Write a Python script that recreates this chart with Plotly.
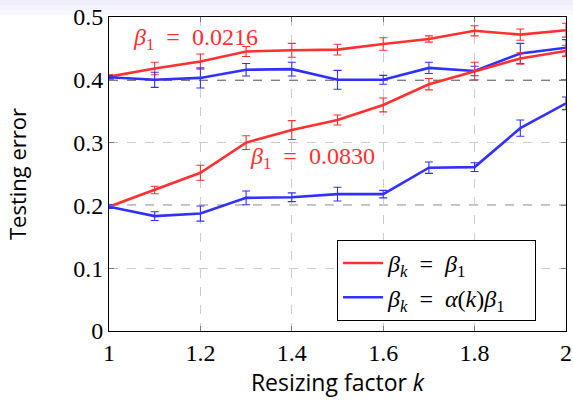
import plotly.graph_objects as go

k = [1.0, 1.1, 1.2, 1.3, 1.4, 1.5, 1.6, 1.7, 1.8, 1.9, 2.0]

# beta1 = 0.0216
red_hi = [0.405, 0.418, 0.429, 0.445, 0.447, 0.448, 0.457, 0.465, 0.478, 0.472, 0.479]
red_hi_err = [0.003, 0.010, 0.012, 0.008, 0.011, 0.0085, 0.010, 0.005, 0.008, 0.009, 0.011]
blue_hi = [0.404, 0.400, 0.403, 0.416, 0.417, 0.400, 0.400, 0.419, 0.414, 0.442, 0.451]
blue_hi_err = [0.003, 0.012, 0.016, 0.010, 0.011, 0.015, 0.007, 0.009, 0.0075, 0.016, 0.013]

# beta1 = 0.0830
red_lo = [0.198, 0.2245, 0.252, 0.300, 0.320, 0.336, 0.360, 0.393, 0.414, 0.434, 0.446]
red_lo_err = [0.003, 0.006, 0.012, 0.011, 0.015, 0.008, 0.011, 0.009, 0.014, 0.009, 0.009]
blue_lo = [0.198, 0.183, 0.187, 0.212, 0.213, 0.218, 0.218, 0.260, 0.261, 0.323, 0.3625]
blue_lo_err = [0.003, 0.007, 0.012, 0.011, 0.007, 0.011, 0.006, 0.009, 0.007, 0.013, 0.010]

ref_levels = [0.2, 0.4]
x_ticks = [1, 1.2, 1.4, 1.6, 1.8, 2]
x_tick_text = ["1", "1.2", "1.4", "1.6", "1.8", "2"]
y_ticks = [0, 0.1, 0.2, 0.3, 0.4, 0.5]
y_tick_text = ["0", "0.1", "0.2", "0.3", "0.4", "0.5"]

RED = "rgb(255,48,48)"
BLUE = "rgb(48,48,255)"
SERIF = "Liberation Serif"
SANS = "Open Sans"
EQ = "\u2002=\u2002"

fig = go.Figure()

def add(y, err, color, name, show):
    fig.add_trace(go.Scatter(
        x=k, y=y, mode="lines", name=name, showlegend=show,
        line=dict(color=color, width=2.6),
        error_y=dict(type="data", array=err, visible=True,
                     color=color, thickness=1.1, width=4),
    ))

add(red_hi, red_hi_err, RED, "<i>β</i><sub><i>k</i></sub>" + EQ + "<i>β</i><sub>1</sub>", True)
add(blue_hi, blue_hi_err, BLUE, "<i>β</i><sub><i>k</i></sub>" + EQ + "<i>α</i>(<i>k</i>)<i>β</i><sub>1</sub>\u2003", True)
add(red_lo, red_lo_err, RED, "red_lo", False)
add(blue_lo, blue_lo_err, BLUE, "blue_lo", False)

shapes = []
for lv in ref_levels:
    shapes.append(dict(type="line", xref="x", yref="y", x0=k[0], x1=k[-1], y0=lv, y1=lv,
                       line=dict(color="black", width=1.3, dash="dash"), layer="below"))
# light top band
for i, (a, b, c) in enumerate([(0, 5, "#eeeffa"), (5, 10, "#f2f3fc"), (10, 15, "#f7f7fd")]):
    shapes.append(dict(type="rect", xref="paper", yref="paper",
                       x0=-109/457, x1=1 + 7/457,
                       y0=1 + (17 - b)/314, y1=1 + (17 - a)/314,
                       line=dict(width=0), fillcolor=c, layer="below"))

fig.update_layout(
    width=573, height=402,
    margin=dict(l=109, r=7, t=17, b=71),
    paper_bgcolor="white", plot_bgcolor="white",
    shapes=shapes,
    font=dict(family=SERIF, size=24, color="black"),
    legend=dict(x=0.499, y=0.29, xanchor="left", yanchor="top",
                bordercolor="black", borderwidth=1, bgcolor="white",
                font=dict(family=SERIF, size=24), tracegroupgap=0, itemwidth=40),
    annotations=[
        dict(x=1.19, y=0.465, xref="x", yref="y", showarrow=False,
             text="<i>β</i><sub>1</sub>" + EQ + "0.0216", font=dict(family=SERIF, size=24, color=RED)),
        dict(x=1.445, y=0.275, xref="x", yref="y", showarrow=False,
             text="<i>β</i><sub>1</sub>" + EQ + "0.0830", font=dict(family=SERIF, size=24, color=RED)),
    ],
)
fig.update_xaxes(
    range=[1, 2], tickvals=x_ticks, ticktext=x_tick_text, automargin=False,
    showline=True, linecolor="black", linewidth=1, mirror="ticks",
    ticks="inside", ticklen=5, tickcolor="#777",
    showgrid=True, gridcolor="#cccccc", griddash="dash", gridwidth=1,
    zeroline=False, tickfont=dict(family=SERIF, size=24),
    title=dict(text="Resizing factor <i>k</i>", font=dict(family=SANS, size=23), standoff=10),
)
fig.update_yaxes(
    range=[0, 0.5], tickvals=y_ticks, ticktext=y_tick_text, automargin=False,
    showline=True, linecolor="black", linewidth=1, mirror="ticks",
    ticks="inside", ticklen=5, tickcolor="#777",
    showgrid=True, gridcolor="#cccccc", griddash="dash", gridwidth=1,
    zeroline=False, tickfont=dict(family=SERIF, size=24),
    title=dict(text="Testing error", font=dict(family=SANS, size=22), standoff=40),
)

fig.write_html("out.html")
